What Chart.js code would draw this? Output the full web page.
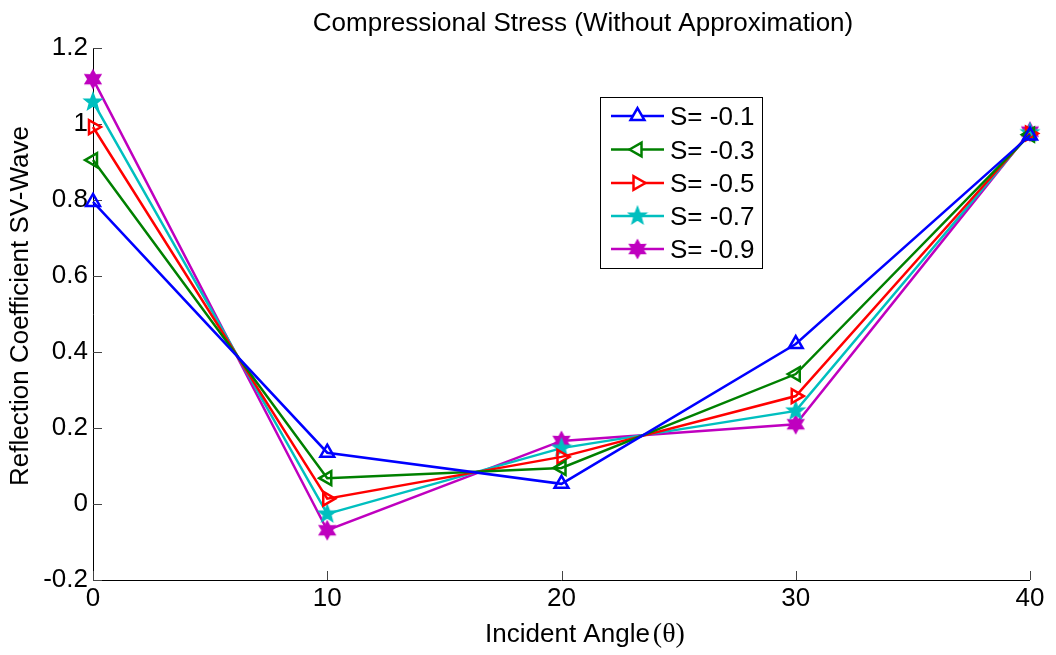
<!DOCTYPE html>
<html><head><meta charset="utf-8">
<script src="https://cdn.jsdelivr.net/npm/chart.js@4/dist/chart.umd.min.js"></script>
<style>html,body{margin:0;padding:0;background:#fff}#wrap{width:1056px;height:655px}</style>
</head><body><div id="wrap"><canvas id="c" width="1056" height="655"></canvas></div>
<script>
const angles = [0, 10, 20, 30, 40];
const labels = ['S= -0.1', 'S= -0.3', 'S= -0.5', 'S= -0.7', 'S= -0.9'];
const s01 = [0.795, 0.135, 0.053, 0.421, 0.970];
const s03 = [0.905, 0.068, 0.095, 0.342, 0.972];
const s05 = [0.992, 0.014, 0.124, 0.284, 0.975];
const s07 = [1.058, -0.026, 0.147, 0.245, 0.977];
const s09 = [1.118, -0.069, 0.166, 0.210, 0.980];
const yTicks = [-0.2, 0, 0.2, 0.4, 0.6, 0.8, 1.0, 1.2];
const xTicks = [0, 10, 20, 30, 40];
const colors = ['#0000FF', '#008000', '#FF0000', '#00BFBF', '#BF00BF'];
const FONT = '"Liberation Sans", Arial, sans-serif';
const SERIF = '"Liberation Serif", "Times New Roman", serif';
const FS = 26;

function starCanvas(n, color, fill) {
  const s = 22, c = document.createElement('canvas');
  c.width = s; c.height = s;
  const g = c.getContext('2d');
  const cx = s/2, cy = s/2, R = 9, r = n === 5 ? 3.8 : 5;
  g.beginPath();
  for (let i = 0; i < 2*n; i++) {
    const a = -Math.PI/2 + i*Math.PI/n;
    const rr = i % 2 === 0 ? R : r;
    const x = cx + rr*Math.cos(a), y = cy + rr*Math.sin(a);
    i === 0 ? g.moveTo(x, y) : g.lineTo(x, y);
  }
  g.closePath();
  g.fillStyle = fill; g.fill();
  g.lineWidth = 1.5; g.strokeStyle = color; g.stroke();
  return c;
}
const starImg = starCanvas(5, colors[3], colors[3]);
const hexImg = starCanvas(6, colors[4], colors[4]);

const series = [s01, s03, s05, s07, s09];
const styles = [
  {pointStyle: 'triangle', rotation: 0},
  {pointStyle: 'triangle', rotation: -90},
  {pointStyle: 'triangle', rotation: 90},
  {pointStyle: starImg, rotation: 0},
  {pointStyle: hexImg, rotation: 0}
];
const datasets = series.map((arr, i) => ({
  label: labels[i],
  data: angles.map((a, j) => ({x: a, y: arr[j]})),
  borderColor: colors[i],
  backgroundColor: 'rgba(255,255,255,0)',
  borderWidth: 2.5,
  pointBorderWidth: 2.5,
  pointRadius: 8,
  pointStyle: styles[i].pointStyle,
  rotation: styles[i].rotation,
  pointBackgroundColor: 'rgba(255,255,255,0)',
  pointBorderColor: colors[i],
  tension: 0,
  clip: false
}));

const decor = {
  id: 'decor',
  beforeDatasetsDraw(chart) {
    const ctx = chart.ctx, a = chart.chartArea;
    const xs = chart.scales.x, ys = chart.scales.y;
    ctx.save();
    ctx.strokeStyle = '#000'; ctx.lineWidth = 1;
    ctx.beginPath();
    ctx.moveTo(a.left + 0.5, a.top); ctx.lineTo(a.left + 0.5, a.bottom + 0.5);
    ctx.lineTo(a.right, a.bottom + 0.5);
    ctx.stroke();
    ctx.strokeStyle = '#444';
    ctx.beginPath();
    yTicks.forEach(v => { const y = Math.round(ys.getPixelForValue(v)) + 0.5; ctx.moveTo(a.left, y); ctx.lineTo(a.left + 9, y); });
    xTicks.forEach(v => { const x = Math.round(xs.getPixelForValue(v)) + 0.5; ctx.moveTo(x, a.bottom); ctx.lineTo(x, a.bottom - 9); });
    ctx.stroke();
    ctx.restore();
  },
  afterDraw(chart) {
    const ctx = chart.ctx;
    ctx.save();
    ctx.fillStyle = '#000';
    ctx.font = FS + 'px ' + FONT;
    ctx.textAlign = 'center'; ctx.textBaseline = 'alphabetic';
    ctx.fillText('Compressional Stress (Without Approximation)', 583, 31);
    // x axis label with serif theta
    const t1 = 'Incident Angle', t2 = '(θ)';
    ctx.font = FS + 'px ' + FONT;
    const w1 = ctx.measureText(t1).width;
    ctx.font = (FS + 2) + 'px ' + SERIF;
    const w2 = ctx.measureText(t2).width;
    const gap = 3, x0 = 585 - (w1 + gap + w2) / 2;
    ctx.textAlign = 'left';
    ctx.font = FS + 'px ' + FONT;
    ctx.fillText(t1, x0, 642);
    ctx.font = (FS + 2) + 'px ' + SERIF;
    ctx.fillText(t2, x0 + w1 + gap, 642);
    // y axis label
    ctx.save();
    ctx.translate(28, 306); ctx.rotate(-Math.PI/2);
    ctx.textAlign = 'center';
    ctx.font = FS + 'px ' + FONT;
    ctx.fillText('Reflection Coefficient SV-Wave', 0, 0);
    ctx.restore();
    // legend
    const L = 600, T = 97, W = 162, H = 171;
    ctx.fillStyle = '#fff'; ctx.fillRect(L, T, W, H);
    ctx.strokeStyle = '#000'; ctx.lineWidth = 1;
    ctx.strokeRect(L + 0.5, T + 0.5, W, H);
    const rows = [116, 149.5, 183, 216, 249];
    datasets.forEach((d, i) => {
      const y = rows[i];
      ctx.strokeStyle = colors[i]; ctx.lineWidth = 2.5;
      ctx.beginPath(); ctx.moveTo(611, y); ctx.lineTo(664, y); ctx.stroke();
      const ps = styles[i].pointStyle;
      if (typeof ps === 'string') {
        ctx.fillStyle = '#fff';
        ctx.lineWidth = 2.5; ctx.strokeStyle = colors[i];
        Chart.helpers.drawPoint(ctx, {pointStyle: ps, radius: 8, rotation: styles[i].rotation, borderWidth: 2.5}, 637.5, y);
      } else {
        ctx.drawImage(ps, 637.5 - ps.width/2, y - ps.height/2);
      }
      ctx.fillStyle = '#000'; ctx.textAlign = 'left'; ctx.textBaseline = 'alphabetic';
      ctx.font = FS + 'px ' + FONT;
      ctx.fillText(labels[i], 670, y + 9);
    });
    ctx.restore();
  }
};

new Chart(document.getElementById('c'), {
  type: 'line',
  data: {datasets},
  options: {
    responsive: false,
    animation: false,
    devicePixelRatio: 1,
    layout: {padding: {top: 48, right: 26, left: 0, bottom: 0}},
    plugins: {legend: {display: false}, title: {display: false}, tooltip: {enabled: false}},
    scales: {
      x: {
        type: 'linear', min: 0, max: 40,
        afterBuildTicks: s => { s.ticks = xTicks.map(v => ({value: v})); },
        afterFit: s => { s.height = 75; },
        grid: {display: false, drawTicks: false},
        border: {display: false},
        ticks: {color: '#000', font: {size: FS, family: FONT}, padding: 3, maxRotation: 0}
      },
      y: {
        type: 'linear', min: -0.2, max: 1.2,
        afterBuildTicks: s => { s.ticks = yTicks.map(v => ({value: v})); },
        afterFit: s => { s.width = 93; },
        grid: {display: false, drawTicks: false},
        border: {display: false},
        ticks: {color: '#000', font: {size: FS, family: FONT}, padding: 5,
          callback: v => { const r = Math.round(v*10)/10; return String(r); }}
      }
    }
  },
  plugins: [decor]
});
</script></body></html>
